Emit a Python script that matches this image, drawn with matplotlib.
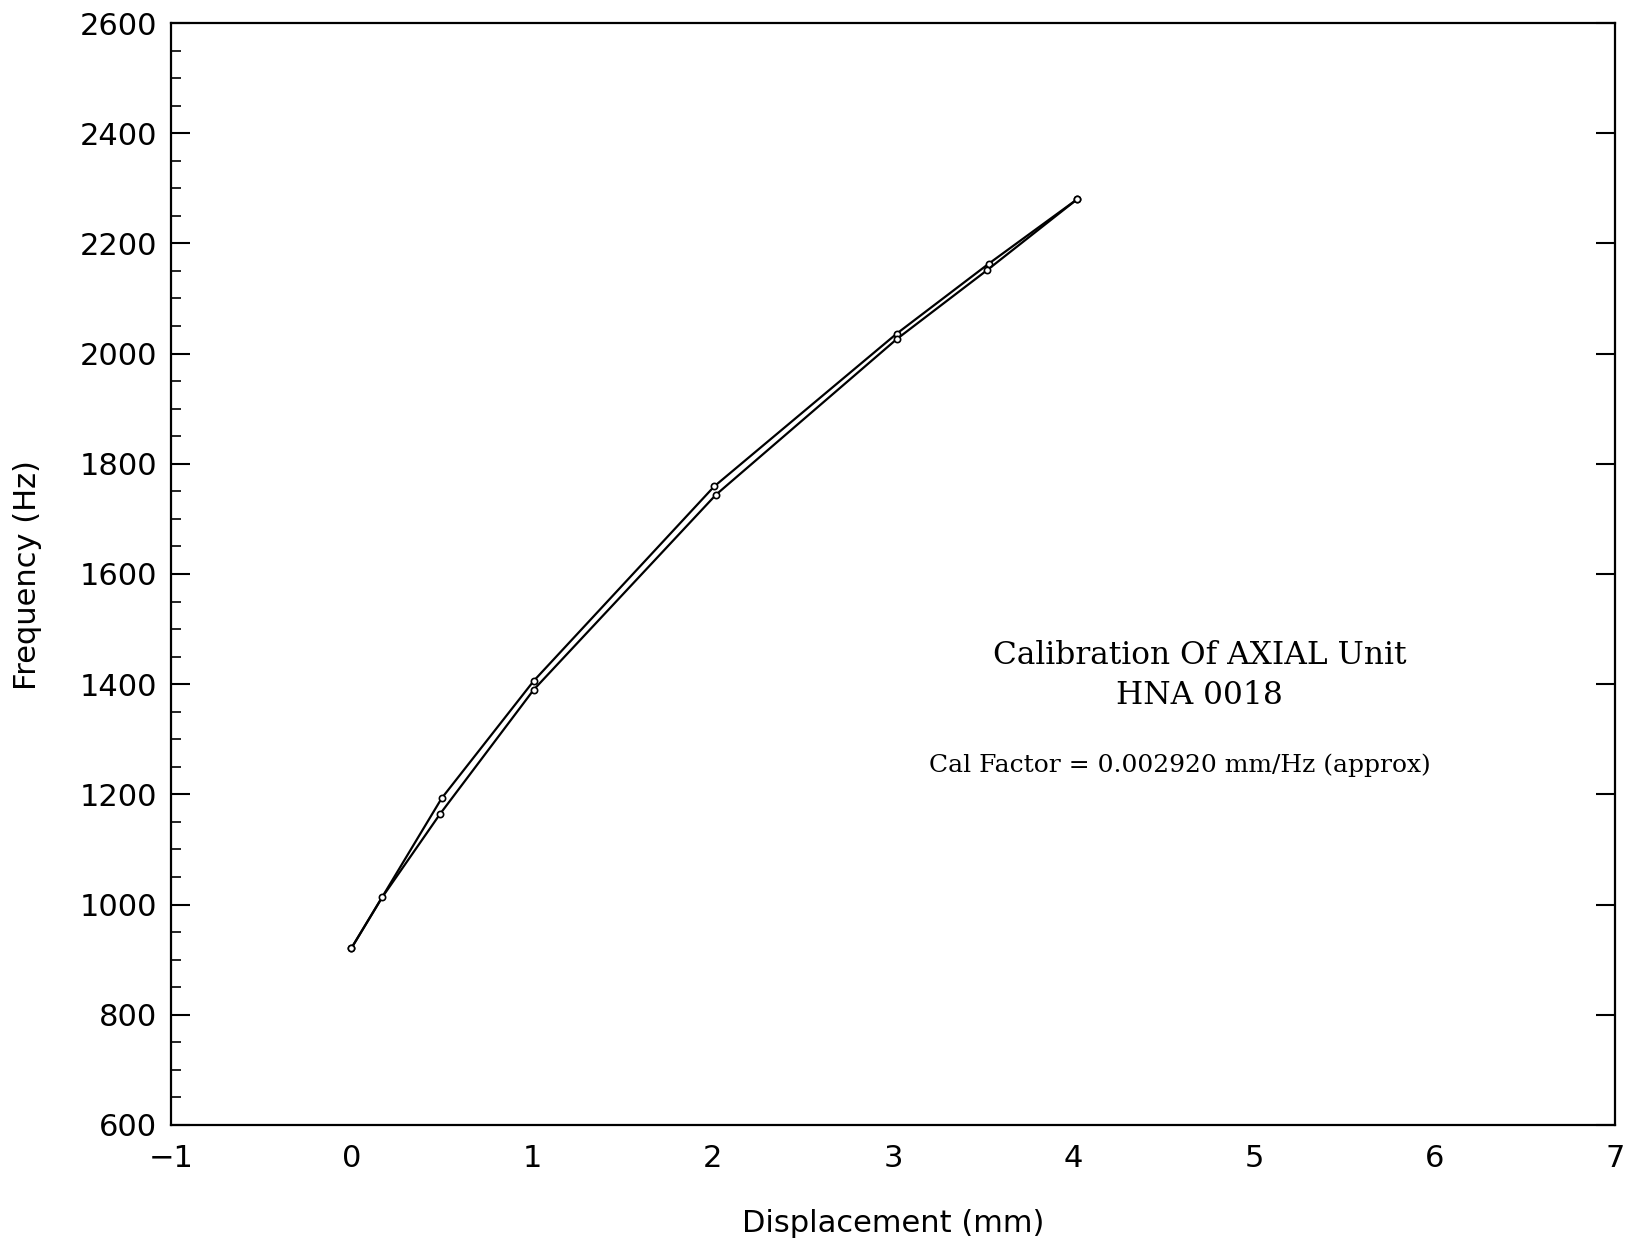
import matplotlib.pyplot as plt
from matplotlib.ticker import MultipleLocator, FixedLocator

# loading / unloading runs
x_up = [0.0, 0.50, 1.01, 2.01, 3.02, 3.53, 4.02]
f_up = [921, 1193, 1406, 1759, 2036, 2163, 2280]
x_down = [0.0, 0.17, 0.49, 1.01, 2.02, 3.02, 3.52, 4.02]
f_down = [921, 1013, 1164, 1390, 1744, 2026, 2151, 2280]

x_ticks = [-1, 0, 1, 2, 3, 4, 5, 6, 7]
x_marks = [0, 2, 4, 6]
y_ticks = [600, 800, 1000, 1200, 1400, 1600, 1800, 2000, 2200, 2400, 2600]

fig = plt.figure(figsize=(16.25, 12.44), dpi=100)
ax = fig.add_axes([0.1052, 0.0957, 0.8886, 0.8858])

ax.plot(x_up, f_up, color='black', lw=1.6, marker='o', ms=4.5,
        mfc='white', mec='black', mew=1.2)
ax.plot(x_down, f_down, color='black', lw=1.6, marker='o', ms=4.5,
        mfc='white', mec='black', mew=1.2)

ax.set_xlim(-1, 7)
ax.set_ylim(600, 2600)

# labels on every unit, tick marks only on even ones (top and bottom)
ax.xaxis.set_major_locator(FixedLocator(x_ticks))
ax.xaxis.set_minor_locator(FixedLocator(x_marks))
ax.tick_params(axis='x', which='major', length=0, pad=14, labelsize=22)
ax.tick_params(axis='x', which='minor', direction='in', length=11, width=1.4,
               top=True, bottom=True)

ax.yaxis.set_major_locator(FixedLocator(y_ticks))
ax.yaxis.set_minor_locator(MultipleLocator(50))
ax.tick_params(axis='y', which='major', direction='in', length=14, width=1.5,
               left=True, right=True, pad=10, labelsize=22)
ax.tick_params(axis='y', which='minor', direction='in', length=7, width=1.2,
               left=True, right=False)

for s in ax.spines.values():
    s.set_linewidth(1.6)

fig.text(893 / 1625, 1 - 1223 / 1244, 'Displacement (mm)', fontsize=22,
         ha='center', va='center')
fig.text(28 / 1625, 1 - 575 / 1244, 'Frequency (Hz)', fontsize=22,
         rotation=90, ha='center', va='center')

ax.text(4.70, 1452, 'Calibration Of AXIAL Unit', family='DejaVu Serif',
        fontsize=22.5, ha='center', va='center')
ax.text(4.70, 1379, 'HNA 0018', family='DejaVu Serif',
        fontsize=22.5, ha='center', va='center')
ax.text(4.59, 1252, 'Cal Factor = 0.002920 mm/Hz (approx)', family='DejaVu Serif',
        fontsize=18, ha='center', va='center')

fig.savefig('out.png', dpi=100)
